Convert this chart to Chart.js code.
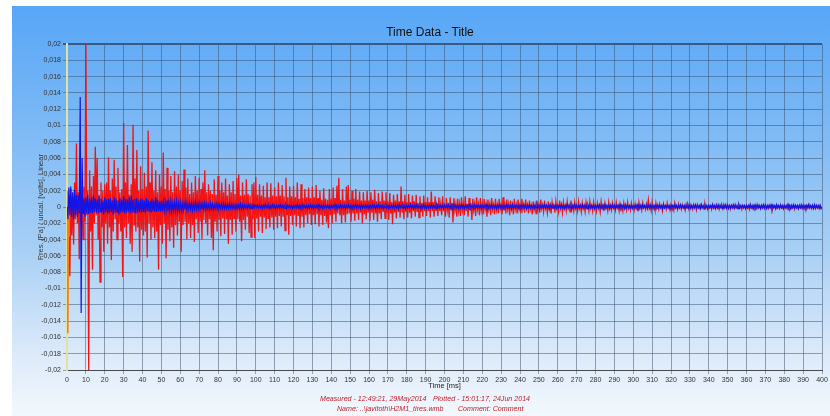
<!DOCTYPE html>
<html>
<head>
<meta charset="utf-8">
<script src="https://cdn.jsdelivr.net/npm/chart.js@4/dist/chart.umd.min.js"></script>
<style>
  body { margin: 0; background: #fff; width: 830px; height: 416px; overflow: hidden; position: relative; font-family: "Liberation Sans", Arial, sans-serif; }
  #panel { position: absolute; left: 12px; top: 6px; width: 818px; height: 410px;
    background: linear-gradient(to bottom, #57a6f7 0%, #7db9f5 30%, #a9d0f5 60%, #dceafa 85%, #f3f8fd 100%); }
  #myChart { position: absolute; left: 0; top: 0; }
  .txt { position: absolute; white-space: nowrap; }
  #title { left: 330px; width: 200px; top: 25px; text-align: center; font-size: 12px; color: #111; line-height: 14px; }
  .foot { font-size: 7.1px; font-style: italic; color: #c0202a; line-height: 9px; }
</style>
</head>
<body>
<div id="panel"><canvas id="myChart" width="818" height="410"></canvas></div>
<div class="txt" id="title">Time Data - Title</div>
<div class="txt foot" style="left:320px; top:395px;">Measured - 12:49:21, 29May2014</div>
<div class="txt foot" style="left:433px; top:395px;">Plotted - 15:01:17, 24Jun 2014</div>
<div class="txt foot" style="left:337px; top:405px;">Name: ..\javitoth\H2M1_tires.wmb</div>
<div class="txt foot" style="left:458px; top:405px;">Comment: Comment</div>
<script>
// samples every 0.5 ms, values in units of 1e-4
var dt = 0.5;
var redValues = [
  5, -30, 12, -85, 22, -35, 14, -46, 30, -15, 78, -20, 18, -64, 35, -20, 10, -40, 25, -18,
  200, -10, 20, -200, 45, -30, 25, -77, 38, -20, 74, -10, 60, -40, 15, -92, 30, -25, 20, -55,
  28, -20, 30, -45, 61, -25, 20, -65, 35, -30, 58, -15, 25, -40, 48, -20, 18, -30, 22, -86,
  103, -25, 30, -38, 76, -20, 15, -45, 28, -55, 101, -22, 35, -30, 70, -25, 20, -67, 50, -28,
  22, -35, 42, -30, 25, -62, 94, -20, 30, -40, 55, -25, 20, -38, 45, -30, 18, -77, 40, -22,
  25, -45, 67, -20, 22, -63, 48, -28, 20, -42, 38, -25, 18, -50, 44, -22, 25, -35, 40, -18,
  20, -55, 32, -22, 46, -18, 24, -40, 35, -20, 16, -38, 30, -22, 18, -43, 38, -15, 20, -32,
  36, -18, 22, -40, 30, -16, 45, -20, 18, -35, 28, -15, 20, -38, 16, -53, 34, -18, 15, -30,
  38, -16, 20, -36, 30, -14, 18, -33, 35, -15, 14, -45, 28, -16, 18, -34, 32, -14, 16, -30,
  36, -15, 40, -18, 14, -42, 30, -16, 15, -28, 34, -12, 16, -32, 14, -37, 28, -15, 30, -38,
  37, -14, 15, -30, 28, -12, 14, -32, 26, -13, 12, -27, 30, -14, 12, -25, 29, -13, 14, -28,
  24, -12, 13, -26, 30, -11, 14, -24, 27, -12, 13, -29, 36, -10, 12, -34, 25, -11, 13, -22,
  26, -10, 12, -24, 30, -11, 10, -26, 28, -12, 11, -25, 22, -10, 12, -20, 24, -9, 11, -22,
  25, -10, 12, -21, 27, -9, 11, -24, 20, -10, 9, -22, 23, -11, 10, -19, 9, -26, 22, -10,
  10, -20, 24, -9, 11, -18, 26, -8, 36, -10, 9, -20, 22, -10, 8, -19, 25, -9, 27, -8,
  9, -18, 20, -8, 10, -17, 22, -8, 9, -16, 19, -7, 8, -20, 18, -9, 8, -15, 20, -7,
  8, -17, 18, -7, 9, -16, 21, -8, 7, -18, 17, -8, 7, -15, 19, -6, 8, -14, 18, -7,
  7, -16, 17, -8, 6, -21, 15, -7, 8, -14, 16, -6, 7, -13, 25, -6, 7, -15, 15, -6,
  6, -13, 16, -7, 6, -14, 14, -5, 7, -12, 15, -6, 5, -13, 13, -6, 5, -12, 14, -5,
  6, -11, 12, -5, 6, -13, 19, -5, 6, -12, 13, -4, 5, -11, 12, -5, 4, -10, 13, -5,
  5, -12, 11, -4, 5, -13, 12, -4, 5, -19, 11, -4, 4, -12, 10, -5, 4, -11, 12, -4,
  4, -10, 13, -5, 4, -12, 11, -4, 5, -16, 10, -4, 4, -11, 12, -3, 4, -10, 11, -4,
  4, -9, 10, -3, 4, -12, 9, -3, 4, -10, 11, -3, 3, -9, 10, -4, 3, -8, 10, -3,
  3, -9, 12, -4, 3, -8, 9, -3, 4, -10, 8, -3, 3, -9, 10, -3, 3, -8, 9, -3,
  3, -8, 10, -3, 3, -7, 9, -2, 3, -8, 8, -3, 2, -9, 7, -3, 3, -8, 8, -2,
  3, -7, 9, -2, 3, -6, 8, -2, 2, -7, 7, -3, 2, -8, 6, -2, 3, -7, 7, -2,
  2, -6, 8, -2, 3, -7, 6, -2, 2, -5, 7, -2, 2, -6, 8, -3, 2, -5, 6, -2,
  2, -5, 7, -2, 2, -6, 5, -2, 2, -6, 6, -2, 2, -5, 7, -2, 2, -5, 6, -2,
  2, -5, 5, -2, 2, -6, 7, -1, 2, -4, 5, -2, 1, -5, 6, -2, 2, -4, 5, -1,
  2, -4, 6, -1, 2, -5, 4, -2, 1, -5, 5, -2, 1, -4, 6, -2, 1, -4, 5, -1,
  1, -4, 4, -2, 1, -5, 6, -1, 2, -4, 5, -1, 1, -3, 4, -1, 9, -2, 1, -5,
  6, -1, 1, -4, 5, -2, 1, -3, 4, -1, 1, -5, 4, -1, 1, -3, 5, -1, 1, -4,
  3, -1, 1, -4, 5, -1, 1, -3, 4, -1, 1, -3, 3, -1, 1, -4, 3, -1, 1, -3,
  4, -1, 1, -3, 3, -1, 1, -4, 3, -1, 1, -2, 3, -1, 1, -3, 4, -1, 1, -3,
  2, -1, 1, -3, 3, -1, 1, -2, 3, -1, 1, -3, 2, -1, 1, -2, 3, -1, 1, -2,
  3, -1, 1, -3, 2, -1, 1, -2, 3, -1, 1, -2, 2, -1, 1, -3, 2, -1, 1, -2,
  2, -1, 1, -3, 3, -1, 1, -2, 2, -1, 1, -2, 3, -1, 1, -2, 2, -1, 1, -2,
  3, -1, 1, -2, 2, -1, 1, -3, 2, -1, 1, -2, 2, -1, 1, -2, 3, -1, 1, -2,
  2, -1, 1, -2, 3, -1, 1, -2, 2, -1, 1, -3, 2, -1, 1, -2, 2, -1, 1, -2,
  2, -1, 1, -2, 2, -1, 3, -1, 1, -2, 2, -1, 1, -2, 2, -1, 1, -2, 2, -1,
  0
];
var blueValues = [
  0, -15, 24, -10, 25, -12, 18, -15, 21, -10, 15, -12, 14, -8, 135, -130, 60, -8, 10, -12,
  12, -8, 15, -9, 10, -7, 12, -8, 14, -6, 11, -7, 9, -8, 13, -6, 10, -7, 8, -9,
  12, -6, 9, -8, 10, -7, 11, -6, 8, -9, 12, -7, 10, -6, 8, -9, 11, -7, 9, -6,
  13, -8, 10, -7, 9, -6, 12, -8, 14, -7, 9, -6, 10, -8, 11, -7, 8, -6, 10, -7,
  9, -6, 8, -7, 11, -5, 9, -6, 7, -7, 10, -5, 8, -6, 12, -6, 9, -5, 7, -6,
  8, -5, 6, -5, 7, -4, 8, -5, 6, -4, 7, -5, 5, -4, 6, -4, 7, -5, 5, -4,
  6, -4, 5, -4, 5, -3, 6, -4, 4, -3, 5, -3, 5, -4, 4, -3, 6, -3, 4, -3,
  5, -3, 4, -3, 4, -3, 5, -3, 4, -2, 3, -3, 5, -2, 4, -3, 3, -2, 4, -2,
  4, -2, 3, -2, 4, -2, 4, -2, 3, -2, 3, -2, 4, -2, 3, -2, 3, -2, 4, -2,
  3, -2, 3, -2, 4, -2, 3, -2, 3, -1, 2, -2, 3, -1, 3, -2, 2, -1, 3, -1,
  2, -1, 2, -1, 3, -1, 2, -2, 2, -1, 3, -1, 2, -1, 2, -2, 2, -1, 3, -1,
  2, -2, 2, -1, 2, -1, 3, -1, 2, -1, 2, -2, 3, -1, 2, -1, 2, -1, 2, -2,
  2, -1, 2, -1, 3, -1, 2, -2, 2, -1, 3, -1, 2, -1, 2, -2, 2, -1, 3, -1,
  2, -2, 2, -1, 2, -1, 3, -1, 2, -1, 2, -2, 3, -1, 2, -1, 2, -1, 2, -2,
  2, -1, 2, -1, 3, -1, 2, -2, 2, -1, 3, -1, 2, -1, 2, -2, 2, -1, 3, -1,
  2, -2, 2, -1, 2, -1, 3, -1, 2, -1, 2, -2, 3, -1, 2, -1, 2, -1, 2, -2,
  2, -1, 2, -1, 3, -1, 2, -2, 2, -1, 3, -1, 2, -1, 2, -2, 2, -1, 3, -1,
  2, -2, 2, -1, 2, -1, 3, -1, 2, -1, 2, -2, 3, -1, 2, -1, 2, -1, 2, -2,
  2, -1, 2, -1, 3, -1, 2, -2, 2, -1, 3, -1, 2, -1, 2, -2, 2, -1, 3, -1,
  2, -2, 2, -1, 2, -1, 3, -1, 2, -1, 2, -2, 3, -1, 2, -1, 2, -1, 2, -2,
  2, -1, 2, -1, 3, -1, 2, -2, 2, -1, 3, -1, 2, -1, 2, -2, 2, -1, 3, -1,
  2, -2, 2, -1, 2, -1, 3, -1, 2, -1, 2, -2, 3, -1, 2, -1, 2, -1, 2, -2,
  2, -1, 2, -1, 3, -1, 2, -2, 2, -1, 3, -1, 2, -1, 2, -2, 2, -1, 3, -1,
  2, -2, 2, -1, 2, -1, 3, -1, 2, -1, 2, -2, 3, -1, 2, -1, 2, -1, 2, -2,
  2, -1, 2, -1, 3, -1, 2, -2, 2, -1, 3, -1, 2, -1, 2, -2, 2, -1, 3, -1,
  2, -2, 2, -1, 2, -1, 3, -1, 2, -1, 2, -2, 3, -1, 2, -1, 2, -1, 2, -2,
  2, -1, 2, -1, 3, -1, 2, -2, 2, -1, 3, -1, 2, -1, 2, -2, 2, -1, 3, -1,
  2, -2, 2, -1, 2, -1, 3, -1, 2, -1, 2, -2, 3, -1, 2, -1, 2, -1, 2, -2,
  2, -1, 2, -1, 3, -1, 2, -2, 2, -1, 3, -1, 2, -1, 2, -2, 2, -1, 3, -1,
  2, -2, 2, -1, 2, -1, 3, -1, 2, -1, 2, -2, 3, -1, 2, -1, 2, -1, 2, -2,
  2, -1, 2, -1, 3, -1, 2, -2, 2, -1, 3, -1, 2, -1, 2, -2, 2, -1, 3, -1,
  2, -2, 2, -1, 2, -1, 3, -1, 2, -1, 2, -2, 3, -1, 2, -1, 2, -1, 2, -2,
  2, -1, 2, -1, 3, -1, 2, -2, 2, -1, 3, -1, 2, -1, 2, -2, 2, -1, 3, -1,
  2, -2, 2, -1, 2, -1, 3, -1, 2, -1, 2, -2, 3, -1, 2, -1, 2, -1, 2, -2,
  2, -1, 2, -1, 3, -1, 2, -2, 2, -1, 3, -1, 2, -1, 2, -2, 2, -1, 3, -1,
  2, -2, 2, -1, 2, -1, 3, -1, 2, -1, 2, -2, 3, -1, 2, -1, 2, -1, 2, -2,
  2, -1, 2, -1, 3, -1, 2, -2, 2, -1, 3, -1, 2, -1, 2, -2, 2, -1, 3, -1,
  2, -2, 2, -1, 2, -1, 3, -1, 2, -1, 2, -2, 3, -1, 2, -1, 2, -1, 2, -2,
  2, -1, 2, -1, 3, -1, 2, -2, 2, -1, 3, -1, 2, -1, 2, -2, 2, -1, 3, -1,
  2, -2, 2, -1, 2, -1, 3, -1, 2, -1, 2, -2, 3, -1, 2, -1, 2, -1, 2, -2,
  0
];
// short orange trace right at the start
var orangeTimes = [0, 0.3, 0.6, 1.0];
var orangeValues = [20, -155, -35, 0];

var xTicks = { min: 0, max: 400, step: 10 };
var yTicks = { min: -0.02, max: 0.02, step: 0.002 };

var toPoints = function(vals) {
  return vals.map(function(v, i) { return { x: i * dt, y: v * 1e-4 }; });
};
var orangePts = orangeTimes.map(function(t, i) { return { x: t, y: orangeValues[i] * 1e-4 }; });

function fmtY(v) {
  if (Math.abs(v) < 1e-9) return '0';
  return parseFloat(v.toFixed(3)).toString().replace('.', ',');
}

var gridCol = 'rgba(55,78,105,0.5)';
var fontFam = '"Liberation Sans", Arial, sans-serif';

const chart = new Chart("myChart", {
  type: "line",
  data: {
    datasets: [
      { data: toPoints(blueValues), borderColor: '#1414e6', borderWidth: 1.2, pointRadius: 0, tension: 0 },
      { data: orangePts, borderColor: '#ff7a10', borderWidth: 2, pointRadius: 0, tension: 0 },
      { data: toPoints(redValues), borderColor: '#f21414', borderWidth: 1.3, pointRadius: 0, tension: 0 }
    ]
  },
  options: {
    responsive: false,
    animation: false,
    devicePixelRatio: 1,
    layout: { padding: { left: 0, right: 8, top: 38, bottom: 24 } },
    plugins: { legend: { display: false }, tooltip: { enabled: false }, title: { display: false } },
    scales: {
      x: {
        type: 'linear', min: xTicks.min, max: xTicks.max,
        afterFit: function(s) { s.height = 22; },
        border: { color: '#4a4a4a', width: 1 },
        grid: {
          color: function(c) { return c.tick && c.tick.value === 0 ? 'rgba(0,0,0,0)' : gridCol; },
          tickLength: 4
        },
        ticks: { stepSize: xTicks.step, autoSkip: false, maxRotation: 0, padding: 2, color: '#333',
          font: { family: fontFam, size: 7 } },
        title: { display: true, text: 'Time [ms]', color: '#222', font: { family: fontFam, size: 7.5 },
          padding: { top: 0, bottom: 2 } }
      },
      y: {
        min: yTicks.min, max: yTicks.max,
        afterFit: function(s) { s.width = 55; },
        border: { color: '#e2e29c', width: 2 },
        grid: {
          color: function(c) { return c.tick && c.tick.value > 0.0199 ? '#3a5a85' : gridCol; },
          lineWidth: function(c) { return c.tick && c.tick.value > 0.0199 ? 2 : 1; },
          tickLength: 4
        },
        ticks: { stepSize: yTicks.step, padding: 2, color: '#333', font: { family: fontFam, size: 7 },
          callback: function(v) { return fmtY(v); } },
        title: { display: true, text: 'Pres. [Pa] / uncal. [volts], Linear', color: '#333',
          font: { family: fontFam, size: 7.5 }, padding: { top: 24, bottom: 0 } }
      }
    }
  }
});
</script>
</body>
</html>
